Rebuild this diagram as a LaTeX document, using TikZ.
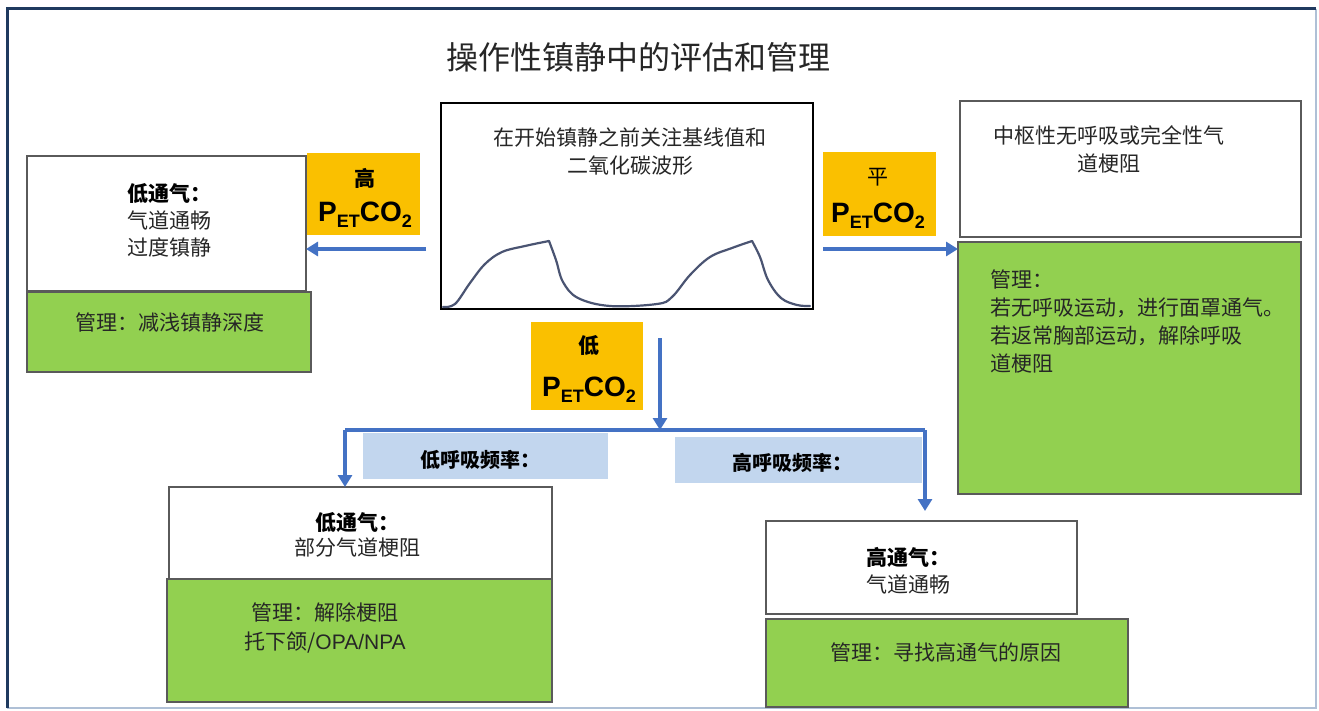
\documentclass[tikz,border=0pt]{standalone}
\usepackage{fontspec}
\setmainfont{Noto Sans CJK SC}
\newfontfamily\arialf{Liberation Sans}
\usetikzlibrary{arrows.meta}
\definecolor{myellow}{HTML}{FAC000}
\definecolor{mgreen}{HTML}{92D050}
\definecolor{lblue}{HTML}{C2D6EE}
\definecolor{arrblue}{HTML}{4472C4}
\definecolor{boxgray}{HTML}{5A5A5A}
\definecolor{txtgray}{HTML}{262626}
\definecolor{navy}{HTML}{1F3A5F}
\definecolor{frameb}{HTML}{AFC0D6}
\definecolor{wavec}{HTML}{4A5472}
\newcommand{\petco}{{\arialf\bfseries\fontsize{28}{28}\selectfont P\raisebox{-6pt}{\fontsize{18}{18}\selectfont ET}CO\raisebox{-6pt}{\fontsize{18}{18}\selectfont 2}}}
\begin{document}
\begin{tikzpicture}[x=1pt,y=-1pt,
  box/.style={draw=boxgray, line width=1.2pt, anchor=north west, inner sep=0pt, outer sep=0pt},
  wbox/.style={box, fill=white},
  gbox/.style={box, fill=mgreen},
  ybox/.style={anchor=north west, fill=myellow, inner sep=0pt, outer sep=0pt},
  lbox/.style={anchor=north west, fill=lblue, inner sep=0pt, outer sep=0pt},
  txt/.style={inner sep=0pt, text=txtgray, font=\fontsize{21}{27}\selectfont},
  arr/.style={draw=arrblue, line width=3.2pt, -{Triangle[length=12pt,width=14pt]}},
  ln/.style={draw=arrblue, line width=3.2pt},
  wv/.style={draw=wavec, line width=2.2pt, line cap=round, line join=round}]
\useasboundingbox (0,0) rectangle (1319,711);
\fill[white] (0,0) rectangle (1319,711);
% frame
\draw[frameb, line width=1.5pt] (1316,9) -- (1316,708) -- (7,708);
\draw[navy, line width=3pt] (7,708) -- (7,9) -- (1316,9);
% title
\node[txt, font=\fontsize{32}{32}\selectfont] (title) at (638,57) {操作性镇静中的评估和管理};
% waveform box
\node[box, draw=black, line width=2pt, minimum width=372pt, minimum height=206pt] (wave) at (441,103) {};
\node[txt, align=center, font=\fontsize{21}{28}\selectfont] (wavet) at (630,152) {在开始镇静之前关注基线值和\\二氧化碳波形};
\draw[wv] plot[smooth, tension=0.6] coordinates {(443,307) (455,304) (470,283) (485,264) (502,252) (525,246) (549,241)};
\draw[wv] plot[smooth, tension=0.6] coordinates {(549,241) (556,260) (563,282) (578,298) (610,306) (657,304) (672,297) (690,275) (710,257) (732,248) (752,241)};
\draw[wv] plot[smooth, tension=0.6] coordinates {(752,241) (760,257) (768,280) (781,298) (797,305) (810,306)};
% left top
\node[wbox, minimum width=279pt, minimum height=135pt] (lw) at (27,156) {};
\node[gbox, minimum width=284pt, minimum height=80pt] (lg) at (27,292) {};
\node[txt, anchor=west, align=left] (lwt) at (127,220) {{\color{black}\bfseries 低通气：}\\气道通畅\\过度镇静};
\node[txt] (lgt) at (170,323) {管理：减浅镇静深度};
% high yellow
\node[ybox, minimum width=113pt, minimum height=82pt] (hy) at (307,153) {};
\node[txt, text=black, font=\fontsize{21}{21}\selectfont\bfseries] (hyt) at (365,178) {高};
\node[inner sep=0pt] (hyp) at (365,215) {\petco};
\coordinate (hs) at (426,249);
\draw[arr] (hs) -- (lw.east |- hs);
% flat yellow
\node[ybox, minimum width=113pt, minimum height=84pt] (fy) at (823,152) {};
\node[txt, text=black, font=\fontsize{21}{21}\selectfont] (fyt) at (878,177) {平};
\node[inner sep=0pt] (fyp) at (878,216) {\petco};
% right boxes
\node[wbox, minimum width=341pt, minimum height=136pt] (rw) at (960,101) {};
\node[txt, align=center, font=\fontsize{21}{28}\selectfont] (rwt) at (1109,149) {中枢性无呼吸或完全性气\\道梗阻};
\node[gbox, minimum width=343pt, minimum height=252pt] (rg) at (958,242) {};
\node[txt, text=black!85, anchor=west, align=left, font=\fontsize{21}{27.7}\selectfont] (rgt) at (990,321.5) {管理：\\若无呼吸运动，进行面罩通气。\\若返常胸部运动，解除呼吸\\道梗阻};
\coordinate (fs) at (823,249);
\draw[arr] (fs) -- (rg.west |- fs);
% low yellow
\node[ybox, minimum width=112pt, minimum height=88pt] (ly) at (531,322) {};
\node[txt, text=black, font=\fontsize{21}{21}\selectfont\bfseries] (lyt) at (589,346) {低};
\node[inner sep=0pt] (lyp) at (589,390) {\petco};
\coordinate (ls) at (660,338);
\coordinate (junc) at (660,430);
\coordinate (bl) at (345,430);
\coordinate (br) at (925,430);
\coordinate (brend) at (925,511);
\draw[ln] (bl) -- (br);
\draw[arr] (ls) -- (junc);
% blue labels
\node[lbox, minimum width=245pt, minimum height=46pt] (lrl) at (363,433) {};
\node[txt, text=black, font=\fontsize{20}{20}\selectfont\bfseries] (lrlt) at (480,460) {低呼吸频率：};
\node[lbox, minimum width=247pt, minimum height=46pt] (hrl) at (675,437) {};
\node[txt, text=black, font=\fontsize{20}{20}\selectfont\bfseries] (hrlt) at (792,463) {高呼吸频率：};
% bottom left
\node[wbox, minimum width=383pt, minimum height=92pt] (bw) at (169,487) {};
\node[gbox, minimum width=385pt, minimum height=123pt] (bg) at (167,579) {};
\node[txt, align=center, font=\fontsize{21}{25}\selectfont] (bwt) at (357,534.5) {{\color{black}\bfseries 低通气：}\\部分气道梗阻};
\node[txt, text=black!85, align=center, font=\fontsize{21}{29}\selectfont] (bgt) at (325,627.5) {管理：解除梗阻\\托下颌/{\arialf OPA/NPA}};
\draw[arr] (bl) -- (bw.north -| bl);
% bottom right
\node[wbox, minimum width=311pt, minimum height=93pt] (hw) at (766,521) {};
\node[gbox, minimum width=362pt, minimum height=88pt] (hg) at (766,619) {};
\node[txt, anchor=west, align=left] (hwt) at (866,570.5) {{\color{black}\bfseries 高通气：}\\气道通畅};
\node[txt, text=black!85] (hgt) at (946,652) {管理：寻找高通气的原因};
\draw[arr] (br) -- (brend);
\end{tikzpicture}
\end{document}
